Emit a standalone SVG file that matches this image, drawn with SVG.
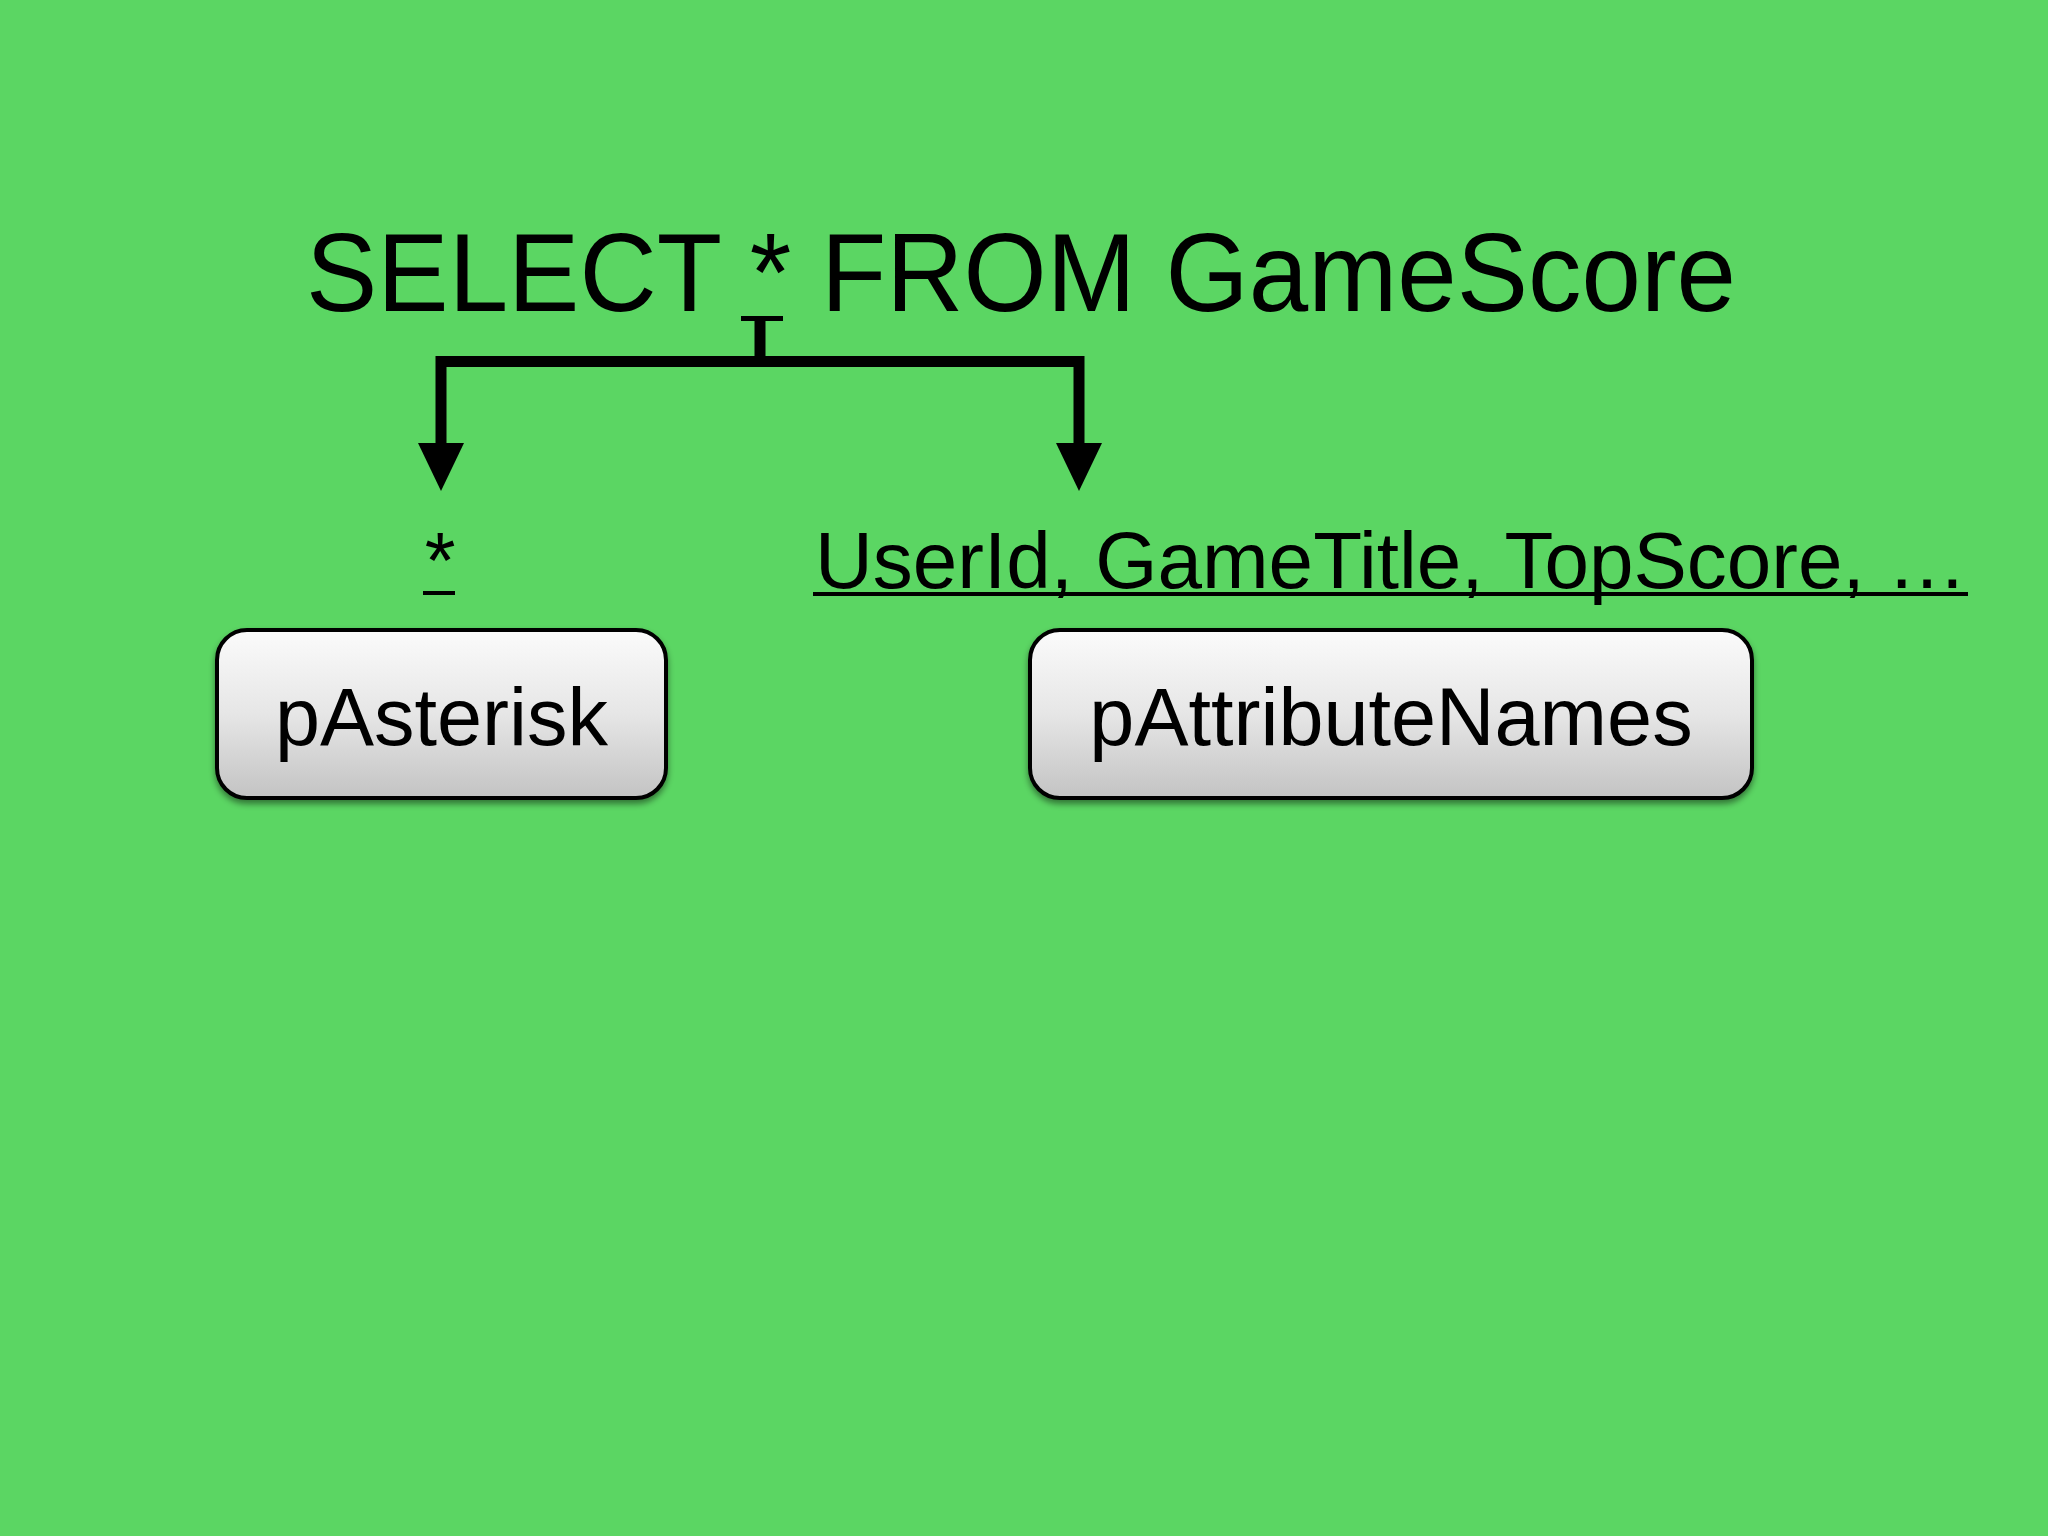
<svg xmlns="http://www.w3.org/2000/svg" width="2048" height="1536" viewBox="0 0 2048 1536">
  <style>
    .t { font-family: "Liberation Sans", Arial, sans-serif; fill: #000; }
    .box { fill: url(#btn); stroke: #000; stroke-width: 4; filter: url(#sh); }
    .conn { fill: none; stroke: #000; stroke-width: 11; stroke-linejoin: miter; }
  </style>
  <defs>
    <linearGradient id="btn" x1="0" y1="0" x2="0" y2="1">
      <stop offset="0" stop-color="#fbfbfb"/>
      <stop offset="0.5" stop-color="#e6e6e6"/>
      <stop offset="1" stop-color="#c3c3c3"/>
    </linearGradient>
    <filter id="sh" x="-10%" y="-10%" width="120%" height="130%">
      <feDropShadow dx="0" dy="4" stdDeviation="3" flood-color="#000" flood-opacity="0.45"/>
    </filter>
    <marker id="arr" markerUnits="userSpaceOnUse" orient="auto" refX="0" refY="0" markerWidth="60" markerHeight="60" overflow="visible">
      <path d="M0,-23 L48,0 L0,23 Z" fill="#000"/>
    </marker>
  </defs>
  <rect width="2048" height="1536" fill="#5bd663"/>

  <g id="title">
    <text class="t" x="306" y="311" font-size="111" textLength="1430" lengthAdjust="spacingAndGlyphs">SELECT * FROM GameScore</text>
  </g>

  <g id="connectors">
    <rect x="741" y="316" width="42" height="5" fill="#000"/>
    <path class="conn" d="M760,318 V362"/>
    <path class="conn" d="M760,361.5 H441 V443" marker-end="url(#arr)"/>
    <path class="conn" d="M760,361.5 H1079 V443" marker-end="url(#arr)"/>
  </g>

  <g id="label-asterisk">
    <text class="t" x="440" y="588" font-size="79" text-anchor="middle">*</text>
    <rect x="423" y="591" width="32" height="4" fill="#000"/>
  </g>

  <g id="label-attributes">
    <text class="t" x="815" y="588" font-size="79" textLength="1152" lengthAdjust="spacingAndGlyphs">UserId, GameTitle, TopScore, …</text>
    <rect x="813" y="592" width="1155" height="4" fill="#000"/>
  </g>

  <g id="node-pAsterisk">
    <rect class="box" x="217" y="630" width="449" height="168" rx="30"/>
    <text class="t" x="441.5" y="745" font-size="81" text-anchor="middle">pAsterisk</text>
  </g>

  <g id="node-pAttributeNames">
    <rect class="box" x="1030" y="630" width="722" height="168" rx="30"/>
    <text class="t" x="1391" y="745" font-size="81" text-anchor="middle">pAttributeNames</text>
  </g>
</svg>
